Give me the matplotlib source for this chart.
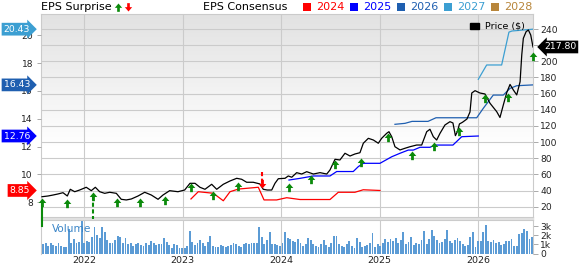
import numpy as np
import matplotlib.pyplot as plt
from matplotlib.path import Path
from matplotlib.lines import Line2D
from matplotlib.patches import Rectangle
from matplotlib.colors import LinearSegmentedColormap

# ==================== DATA ====================

# price line, decimal year / $
price_dates = [2021.574, 2021.635, 2021.686, 2021.736, 2021.787, 2021.831, 2021.861, 2021.906, 2021.956, 2022.023,
               2022.074, 2022.115, 2022.159, 2022.210, 2022.261, 2022.328, 2022.378, 2022.429, 2022.480, 2022.548,
               2022.616, 2022.683, 2022.751, 2022.801, 2022.869, 2022.953, 2023.021, 2023.075, 2023.126, 2023.176,
               2023.227, 2023.295, 2023.346, 2023.413, 2023.481, 2023.549, 2023.599, 2023.650, 2023.717, 2023.785,
               2023.818, 2023.859, 2023.904, 2023.937, 2023.971, 2024.039, 2024.072, 2024.107, 2024.157, 2024.208,
               2024.259, 2024.326, 2024.394, 2024.462, 2024.495, 2024.546, 2024.596, 2024.647, 2024.698, 2024.748,
               2024.799, 2024.833, 2024.884, 2024.935, 2024.985, 2025.019, 2025.070, 2025.093, 2025.121, 2025.154,
               2025.205, 2025.256, 2025.306, 2025.374, 2025.425, 2025.476, 2025.509, 2025.543, 2025.577, 2025.611,
               2025.661, 2025.712, 2025.742, 2025.767, 2025.787, 2025.808, 2025.838, 2025.884, 2025.915, 2025.933,
               2025.966, 2026.016, 2026.067, 2026.118, 2026.186, 2026.219, 2026.253, 2026.288, 2026.321, 2026.355,
               2026.389, 2026.423, 2026.440, 2026.456, 2026.484, 2026.507, 2026.531, 2026.554]
price_vals = [32.4, 33.3, 34.5, 35.8, 37.4, 33.3, 41.6, 38.6, 40.7, 44.1,
              39.9, 44.1, 38.6, 36.6, 37.9, 36.6, 29.2, 28.4, 29.6, 33.3,
              37.9, 34.5, 29.2, 34.5, 39.9, 38.6, 40.7, 49.0, 49.0, 44.1,
              41.6, 47.8, 41.6, 47.8, 51.9, 55.2, 54.0, 50.3, 50.3, 48.2,
              41.6, 40.7, 40.7, 49.0, 54.7, 55.2, 58.1, 56.5, 62.2, 60.5,
              63.4, 60.5, 62.2, 60.5, 65.5, 78.7, 77.9, 86.2, 82.8, 85.3,
              86.9, 98.6, 104.7, 102.6, 98.6, 104.7, 110.9, 112.9, 106.7, 94.3,
              90.3, 92.4, 94.3, 96.4, 96.4, 112.9, 115.9, 106.7, 102.6, 110.9,
              121.2, 125.3, 123.7, 108.0, 113.0, 122.5, 124.5, 128.6, 137.3, 160.8,
              163.7, 160.8, 159.6, 148.1, 137.7, 130.5, 146.0, 161.4, 171.4, 164.5,
              158.4, 174.8, 207.9, 228.5, 236.7, 238.8, 232.6, 217.8]
last_price = 217.80

# EPS consensus per fiscal year
eps24_dates = [2023.085, 2023.159, 2023.311, 2023.413, 2023.481, 2023.565, 2023.768, 2023.826, 2023.954,
               2024.056, 2024.191, 2024.495, 2024.579, 2024.748, 2024.832, 2025.002]
eps24_vals = [8.24, 8.76, 8.65, 8.11, 8.76, 8.95, 9.08, 8.17, 8.17, 8.33, 8.20, 8.20, 8.72, 8.72, 8.90, 8.85]

eps25_dates = [2024.079, 2024.191, 2024.326, 2024.495, 2024.563, 2024.731, 2024.782, 2024.833, 2025.002,
               2025.121, 2025.205, 2025.289, 2025.340, 2025.408, 2025.509, 2025.560, 2025.742, 2025.831, 2025.999]
eps25_vals = [9.60, 9.72, 9.89, 9.89, 10.21, 10.21, 10.56, 10.80, 10.80,
              11.27, 11.52, 11.75, 11.75, 11.95, 11.95, 12.11, 12.11, 12.71, 12.76]

eps26_dates = [2025.154, 2025.256, 2025.327, 2025.489, 2025.570, 2025.983, 2026.050, 2026.151, 2026.253,
               2026.321, 2026.389, 2026.554]
eps26_vals = [13.60, 13.67, 13.81, 13.81, 14.07, 14.07, 14.75, 15.70, 15.70, 16.18, 16.37, 16.43]

eps27_dates = [2025.999, 2026.084, 2026.236, 2026.310, 2026.341, 2026.554]
eps27_vals = [16.83, 17.86, 17.86, 20.22, 20.30, 20.43]

# EPS surprise markers (report date, price at arrow tip)
surp_dates = [2021.574, 2021.828, 2022.091, 2022.335, 2022.571, 2022.818, 2023.085, 2023.311, 2023.559, 2023.808,
              2024.079, 2024.302, 2024.546, 2024.806, 2025.086, 2025.323, 2025.550, 2025.803, 2026.067, 2026.303,
              2026.550]
surp_tips = [30.5, 30.2, 38.6, 30.5, 31.2, 33.7, 49.8, 39.5, 50.3, 42.8,
             49.8, 59.3, 77.9, 80.0, 110.9, 89.4, 100.5, 119.1, 159.6, 160.5,
             212.0]
surp_dir = ['up'] * 9 + ['down'] + ['up'] * 11

# long surprise stems
stem_dates = [2021.574, 2022.091, 2023.808]
stem_top = [24.0, 33.0, 63.4]
stem_bottom = [-3.8, 4.4, 49.0]
stem_styles = ['-', '--', '--']
stem_dir = ['up', 'up', 'down']

# volume (thousands), left to right
volume = [1.0, 1.1, 0.85, 1.1, 0.9, 0.85, 1.1, 0.85, 0.75, 0.75,
          2.7, 1.2, 1.6, 1.1, 1.3, 3.5, 1.2, 1.35, 1.3, 1.8,
          2.9, 2.0, 1.65, 2.9, 2.4, 1.5, 1.2, 1.1, 1.5, 1.95,
          1.8, 1.2, 1.7, 1.0, 1.1, 0.85, 1.0, 1.1, 0.9, 0.85,
          1.1, 0.9, 1.35, 1.2, 0.9, 1.0, 1.0, 1.7, 1.3, 0.9,
          0.6, 1.0, 0.9, 0.6, 0.55, 0.55, 0.85, 2.45, 1.3, 0.9,
          1.2, 1.5, 1.1, 0.85, 1.3, 1.95, 0.85, 0.75, 0.75, 0.9,
          0.85, 0.75, 0.85, 0.9, 1.1, 1.0, 0.85, 0.75, 1.0, 1.2,
          1.0, 1.2, 1.2, 1.1, 2.9, 1.8, 1.0, 1.5, 2.4, 1.0,
          1.0, 0.9, 0.85,
          1.1, 2.3, 1.65, 1.6, 1.35, 1.3, 1.6, 1.1, 0.85, 1.0,
          1.7, 1.5, 1.0, 0.85, 0.75, 1.0, 1.5, 0.9, 0.75, 1.2,
          1.95, 1.95, 1.0, 0.85, 0.75, 1.0, 1.35, 0.85, 0.6, 1.65,
          1.3, 0.75, 0.85, 0.9, 1.1, 2.2, 0.75, 1.0, 0.85, 1.1,
          1.6, 1.3, 1.6, 1.35, 1.7, 1.2, 1.5, 2.3, 1.0, 1.3,
          1.8, 0.9, 1.2, 1.0, 1.5, 2.45, 1.0, 1.6, 2.55, 1.95,
          1.5, 1.2, 1.3, 1.6, 2.55, 1.35, 1.2, 1.5, 1.7, 1.35,
          1.0, 0.85, 0.9, 1.8, 2.3, 0.75, 1.35, 1.35, 2.4, 3.1,
          1.35, 1.3, 1.5, 1.2, 1.3, 0.9, 1.0, 1.35, 1.35, 1.6,
          0.85, 0.85, 2.1, 2.2, 2.7, 2.45, 1.6, 1.8]

years = [2022, 2023, 2024, 2025, 2026]
legend_years = ['2024', '2025', '2026', '2027', '2028']
legend_colors = ['#ff0000', '#0000ff', '#1f5fb0', '#3c9fd2', '#b8863b']
tag_vals = [20.43, 16.43, 12.76, 8.85]
tag_colors = ['#3c9fd2', '#1f5fb0', '#0000ff', '#ff0000']

# ==================== STYLE ====================
W, H = 579, 264
GREEN = '#0b8a0b'
GRID = '#cbcbcb'
XLIM = (2021.564, 2026.554)

up_arrow = Path([(0, 0), (-0.44, -0.52), (-0.16, -0.52), (-0.16, -1), (0.16, -1), (0.16, -0.52), (0.44, -0.52), (0, 0)],
                [Path.MOVETO] + [Path.LINETO] * 6 + [Path.CLOSEPOLY])
down_arrow = Path([(0, 0), (-0.44, 0.52), (-0.16, 0.52), (-0.16, 1), (0.16, 1), (0.16, 0.52), (0.44, 0.52), (0, 0)],
                  [Path.MOVETO] + [Path.LINETO] * 6 + [Path.CLOSEPOLY])

fig = plt.figure(figsize=(W / 100, H / 100), dpi=100)


def box(x0, y0, x1, y1):
    # pixel box (top-left origin) -> figure fraction rect
    return [x0 / W, 1 - y1 / H, (x1 - x0) / W, (y1 - y0) / H]


# volume panel first so the long surprise stem can sit over it
axv = fig.add_axes(box(41, 219.5, 533, 253.5))
ax = fig.add_axes(box(41, 14, 533, 217))
ax_eps = ax.twinx()
ax_px = ax.twinx()

# background gradient of the price panel
grad = np.clip(1 - np.linspace(0, 1, 256) / 0.65, 0, 1).reshape(-1, 1)
cmap = LinearSegmentedColormap.from_list('bg', ['#ffffff', '#e2e2e2'])
ax.imshow(grad, extent=[0, 1, 0, 1], transform=ax.transAxes, aspect='auto', cmap=cmap,
          vmin=0, vmax=1, zorder=0, origin='upper')

ax.set_xlim(*XLIM)
ax.set_ylim(7.3, 258.6)
ax_px.set_ylim(7.3, 258.6)
ax_eps.set_ylim(6.945, 21.52)

ax.set_xticks(years)
ax.set_yticks(np.arange(20, 241, 20))
ax.grid(True, color=GRID, lw=0.8)
ax.set_axisbelow(True)
ax.yaxis.tick_right()
ax.tick_params(axis='x', length=0, labelbottom=False)
ax.tick_params(axis='y', length=3.6, width=0.7, pad=1.5, color='#aaaaaa', labelsize=6.6, labelcolor='#222222')
for s in ax.spines.values():
    s.set_color(GRID)
    s.set_linewidth(0.8)

ax_eps.yaxis.tick_left()
ax_eps.set_yticks([8, 10, 12, 14, 16, 18, 20])
ax_eps.tick_params(axis='y', length=3.2, width=0.7, pad=2.5, color='#aaaaaa', labelsize=6.6, labelcolor='#222222')
ax_px.set_yticks([])
for a in (ax_eps, ax_px):
    for s in a.spines.values():
        s.set_visible(False)

# consensus lines
ax_eps.plot(eps24_dates, eps24_vals, color=legend_colors[0], lw=0.9)
ax_eps.plot(eps25_dates, eps25_vals, color=legend_colors[1], lw=0.9)
ax_eps.plot(eps26_dates, eps26_vals, color=legend_colors[2], lw=0.9)
ax_eps.plot(eps27_dates, eps27_vals, color=legend_colors[3], lw=0.9)

# price line
ax_px.plot(price_dates, price_vals, color='black', lw=0.9)

# surprise stems and arrows
for d, t, b, ls, dr in zip(stem_dates, stem_top, stem_bottom, stem_styles, stem_dir):
    c = GREEN if dr == 'up' else '#ff0000'
    ax_px.plot([d, d], [t, b], color=c, lw=1.5, ls=ls, dashes=(2, 1.2) if ls == '--' else (None, None),
               clip_on=False)
for d, t, dr in zip(surp_dates, surp_tips, surp_dir):
    ax_px.plot([d], [t], marker=up_arrow if dr == 'up' else down_arrow, ms=12.5, mew=0,
               color=GREEN if dr == 'up' else '#ff0000', clip_on=False, zorder=5)

# value tags on both sides
for v, c in zip(tag_vals, tag_colors):
    ax_eps.annotate(f'{v:.2f}', xy=(0, v), xycoords=ax_eps.get_yaxis_transform(), xytext=(-8, 0),
                    textcoords='offset points', ha='right', va='center', color='white', fontsize=6.7,
                    bbox=dict(boxstyle='rarrow,pad=0.2', fc=c, ec='none'), annotation_clip=False, zorder=10)
ax_px.annotate(f'{last_price:.2f}', xy=(1, last_price), xycoords=ax_px.get_yaxis_transform(), xytext=(8, 0),
               textcoords='offset points', ha='left', va='center', color='white', fontsize=6.7,
               bbox=dict(boxstyle='larrow,pad=0.2', fc='black', ec='none'), annotation_clip=False, zorder=10)

# volume panel
vol_dates = np.linspace(2021.585, 2026.545, len(volume))
axv.bar(vol_dates, volume, width=(vol_dates[1] - vol_dates[0]) * 0.72, color='#5b9bd5', edgecolor='none')
axv.set_xlim(*XLIM)
axv.set_ylim(0, 3.71)
axv.set_xticks(years)
axv.set_xticklabels([str(y) for y in years])
axv.set_yticks([0, 1, 2, 3])
axv.set_yticklabels(['0', '1k', '2k', '3k'])
axv.yaxis.tick_right()
axv.grid(True, axis='x', color=GRID, lw=0.8)
axv.set_axisbelow(True)
axv.tick_params(axis='x', length=0, pad=1.5, labelsize=6.8, labelcolor='#222222')
axv.tick_params(axis='y', length=3.6, width=0.7, pad=1.5, color='#aaaaaa', labelsize=6.6, labelcolor='#222222')
for s in axv.spines.values():
    s.set_color(GRID)
    s.set_linewidth(0.8)
axv.spines['bottom'].set_visible(False)
fig.text(52 / W, 1 - 229 / H, 'Volume', fontsize=7.6, color='#3c86c8', va='center', ha='left')

# grey band between the panels
fig.add_artist(Rectangle((41 / W, 1 - 219.5 / H), 492 / W, 2.5 / H, transform=fig.transFigure,
                         color='#e2e2e2', zorder=-1))

# header
fig.text(41 / W, 1 - 7 / H, 'EPS Surprise', fontsize=8, va='center', ha='left')
fig.add_artist(Line2D([118 / W], [1 - 2.5 / H], marker=up_arrow, ms=12, mew=0, color=GREEN,
                      transform=fig.transFigure))
fig.add_artist(Line2D([128 / W], [1 - 11 / H], marker=down_arrow, ms=12, mew=0, color='#ff0000',
                      transform=fig.transFigure))
fig.text(203 / W, 1 - 7 / H, 'EPS Consensus', fontsize=8, va='center', ha='left')
sq_x = [307, 354, 401, 448, 495]
for sx, yr, c in zip(sq_x, legend_years, legend_colors):
    fig.add_artist(Line2D([sx / W], [1 - 6.5 / H], marker='s', ms=5.6, mew=0, color=c,
                          transform=fig.transFigure))
    fig.text((sx + 9) / W, 1 - 7 / H, yr, fontsize=8, color=c, va='center', ha='left')

# price legend
fig.add_artist(Rectangle((470 / W, 1 - 28.5 / H), 9 / W, 6 / H, transform=fig.transFigure,
                         color='black', zorder=5))
fig.text(485 / W, 1 - 26 / H, 'Price ($)', fontsize=6.8, va='center', ha='left')

fig.savefig('out.png', dpi=100)
